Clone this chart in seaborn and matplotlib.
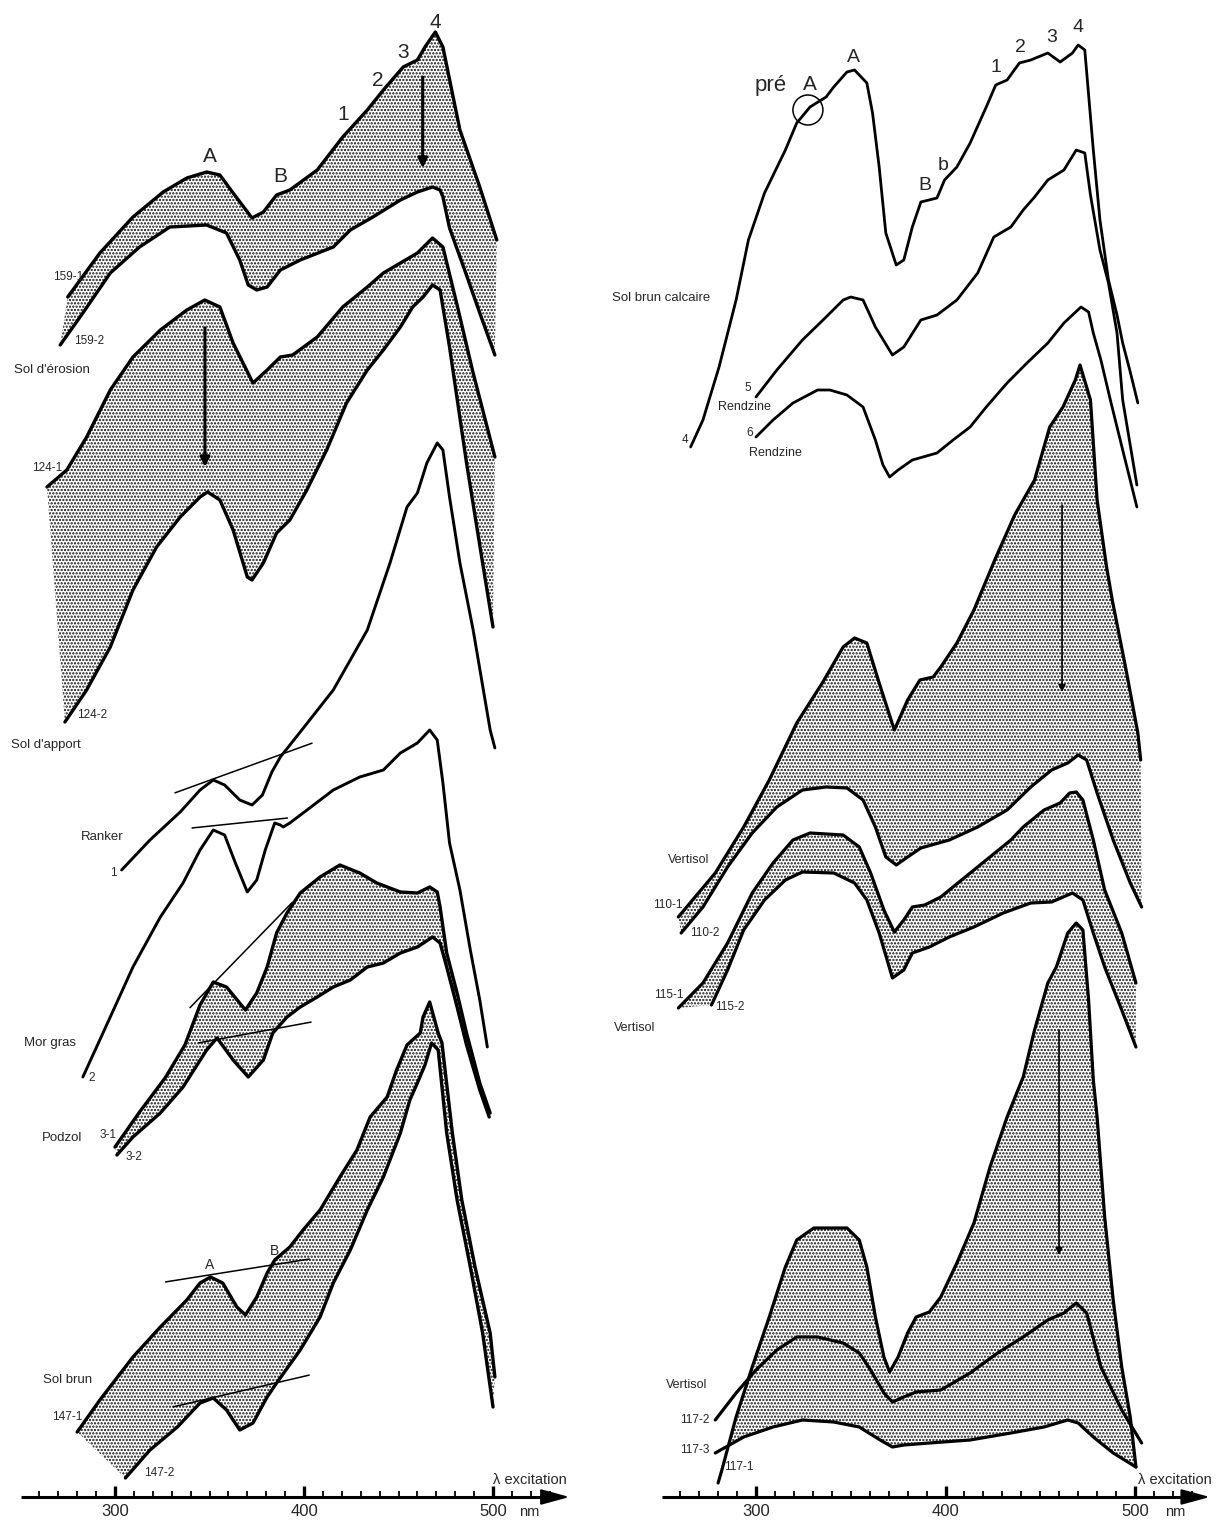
import numpy as np
import matplotlib
matplotlib.use("Agg")
import matplotlib.pyplot as plt
from matplotlib.patches import Ellipse
import seaborn as sns

# ---------------------------------------------------------------------------
# Excitation spectra (wavelength in nm, relative intensity in stacked a.u.)
# ---------------------------------------------------------------------------

# Left panel -- Sol d'érosion, pair 159
wl_159_1 = [275, 292, 309.5, 325.5, 338, 348.5, 355.5, 362.5, 372.5, 378.5, 385.5, 392.5, 407, 420.5,
            433.5, 442, 452.5, 460, 464, 469.5, 473.5, 482.5, 493, 502]
i_159_1 = [1200, 1244, 1280, 1305, 1319, 1325, 1322, 1304, 1279, 1285, 1302, 1307, 1327, 1360,
           1387, 1407, 1430, 1437, 1450, 1465, 1450, 1367, 1310, 1257]
wl_159_2 = [271, 283, 297.5, 313, 329, 348.5, 359, 366, 370.5, 375, 380.5, 387.5, 398, 415.5, 424.5,
            436.5, 451, 460, 468, 472, 473.5, 477, 485, 493, 501]
i_159_2 = [1152, 1184, 1224, 1250, 1270, 1272, 1264, 1237, 1212, 1207, 1210, 1227, 1237, 1250, 1267,
           1280, 1297, 1305, 1310, 1307, 1300, 1269, 1227, 1184, 1142]

# Sol d'apport, pair 124
wl_124_1 = [264, 274.5, 285, 297.5, 309.5, 324, 338, 347.5, 355.5, 362.5, 373, 380.5, 387.5, 394, 407,
            420.5, 433.5, 442, 451, 460, 468, 473.5, 481, 489.5, 501]
i_124_1 = [1010, 1027, 1060, 1107, 1140, 1167, 1187, 1197, 1190, 1154, 1114, 1127, 1140, 1142, 1160,
           1190, 1210, 1224, 1234, 1244, 1259, 1250, 1192, 1124, 1040]
wl_124_2 = [273.5, 285, 297.5, 309.5, 322, 334.5, 345, 349, 355.5, 362.5, 370, 372.5, 378.5, 385.5,
            392.5, 401.5, 412, 422.5, 433.5, 442, 451, 457.5, 463, 468, 472, 477, 486, 494.5, 500]
i_124_2 = [775, 807, 850, 907, 950, 980, 1000, 1005, 997, 967, 920, 917, 934, 964,
           977, 1007, 1047, 1094, 1127, 1147, 1170, 1190, 1200, 1212, 1207, 1150, 1034, 934, 870]

# Ranker (1) and Mor gras (2)
wl_ranker = [303.5, 318.5, 334.5, 345, 352, 358, 366, 372.5, 378, 383, 387.5, 398, 415.5, 433.5,
             445.5, 454.5, 460, 465, 470.5, 473.5, 477, 482.5, 489.5, 498.5, 501]
i_ranker = [627, 657, 685, 707, 717, 712, 697, 692, 702, 725, 740, 765, 807, 867,
            934, 990, 1004, 1034, 1054, 1047, 1000, 934, 867, 767, 749]
wl_morgras = [283, 297.5, 309.5, 324, 336, 345, 352, 358, 363.5, 370, 375, 379.5, 384.5, 387.5, 389,
              392.5, 403, 415.5, 429.5, 442, 451, 460, 466.5, 470.5, 473.5, 477, 482.5, 488, 493, 497]
i_morgras = [420, 480, 530, 580, 614, 647, 667, 662, 635, 605, 617, 647, 674, 672, 670,
             674, 689, 707, 720, 727, 744, 754, 767, 757, 714, 654, 607, 547, 497, 450]

# Podzol, pair 3
wl_3_1 = [300, 313, 326.5, 337, 345, 352, 359, 369, 375, 380.5, 385.5, 391, 398, 408.5, 419, 429.5,
          438.5, 451, 460, 466.5, 470.5, 472, 475.5, 481, 486, 493, 498.5]
i_3_1 = [350, 385, 419, 452, 492, 515, 510, 487, 504, 530, 564, 584, 604, 620, 632, 624,
         614, 605, 604, 610, 605, 590, 544, 504, 464, 414, 384]
wl_3_2 = [301, 309.5, 324, 336, 348.5, 354, 362.5, 370.5, 378.5, 383.5, 391, 398, 407, 415.5, 424.5,
          433.5, 442, 451, 460, 468, 472, 475.5, 481, 486, 493, 498]
i_3_2 = [342, 360, 384, 410, 447, 459, 437, 420, 437, 464, 480, 490, 500, 510, 517,
         530, 534, 544, 550, 560, 554, 530, 490, 452, 407, 380]

# Sol brun, pair 147
wl_147_1 = [280, 292, 309.5, 324, 338, 345, 350.5, 357, 364.5, 369, 375, 380.5, 384.5, 392.5, 399.5,
            408.5, 419, 428, 435, 444, 449, 454.5, 461.5, 463, 466.5, 471, 473, 478.5, 483.5, 490.5,
            498.5, 501]
i_147_1 = [65, 97, 140, 170, 197, 214, 220, 214, 190, 182, 200, 224, 237, 250, 267,
           287, 320, 347, 380, 400, 427, 452, 464, 480, 495, 464, 454, 364, 297, 230,
           164, 120]
wl_147_2 = [305.5, 318.5, 333, 345, 352, 359, 366, 373, 380.5, 385.5, 398, 408.5, 415.5, 424.5,
            433.5, 442, 451, 456, 460, 464, 467.5, 471, 475.5, 481, 488, 494.5, 500]
i_147_2 = [19, 47, 70, 94, 99, 87, 67, 74, 100, 114, 147, 180, 214, 247,
           287, 320, 364, 397, 414, 432, 454, 447, 364, 297, 230, 164, 90]

# Tangents drawn across bands A and B
tan_ranker_wl, tan_ranker_i = [331.5, 404.5], [704, 754]
tan_morgras_wl, tan_morgras_i = [340.5, 391.5], [669, 679]
tan_podzol_up_wl, tan_podzol_up_i = [339.5, 394], [489, 595]
tan_podzol_lo_wl, tan_podzol_lo_i = [344, 404], [454, 475]
tan_brun_up_wl, tan_brun_up_i = [326.5, 403], [215, 238]
tan_brun_lo_wl, tan_brun_lo_i = [330.5, 403], [90, 122]

# Right panel -- Sol brun calcaire (4), Rendzines (5, 6)
wl_c4 = [265.5, 272, 280.5, 289.5, 296, 304.5, 315.5, 321.5, 328.5, 337, 341, 348, 352, 358.5, 361.5,
         365, 368.5, 374, 378, 382.5, 387, 395.5, 399.5, 406, 413, 421.5, 426.5, 432.5, 439, 445,
         454, 460.5, 467, 470, 473.5, 478, 481.5, 486, 490.5, 493.5, 497.5, 501.5]
i_c4 = [1050, 1077, 1130, 1197, 1257, 1304, 1347, 1374, 1390, 1400, 1410, 1425, 1427, 1414, 1384,
        1330, 1264, 1232, 1237, 1270, 1295, 1299, 1317, 1330, 1354, 1390, 1412, 1417, 1434, 1437,
        1444, 1435, 1444, 1452, 1447, 1347, 1277, 1217, 1182, 1154, 1125, 1094]
wl_c5 = [300, 311, 324.5, 337, 346, 350, 356.5, 363, 372, 378, 387, 395.5, 406, 417, 425.5, 434.5,
         441, 447, 454, 462.5, 469, 473.5, 476.5, 481.5, 486, 490.5, 493.5, 501]
i_c5 = [1100, 1127, 1157, 1180, 1197, 1200, 1197, 1170, 1142, 1150, 1177, 1182, 1197, 1224, 1260, 1270,
        1287, 1300, 1317, 1327, 1347, 1344, 1302, 1247, 1214, 1164, 1097, 1012]
wl_c6 = [300, 309, 319.5, 332.5, 339, 348, 356.5, 363, 367, 370.5, 375, 382.5, 395.5, 404, 413, 421.5,
         432.5, 443, 454, 462.5, 471.5, 475.5, 478, 482, 487, 493.5, 501]
i_c6 = [1060, 1077, 1094, 1107, 1107, 1102, 1090, 1057, 1032, 1020, 1027, 1037, 1044, 1057, 1070, 1090,
        1114, 1134, 1154, 1174, 1190, 1185, 1164, 1137, 1097, 1047, 990]

# Vertisol, pair 110
wl_110_1 = [259, 278.5, 293.5, 307, 321.5, 335, 346, 352, 358.5, 365, 373, 380, 386.5, 393.5, 397.5,
            406, 415, 426, 436.5, 447, 450, 455, 462, 468.5, 471, 476.5, 480, 485, 488, 495, 501.5, 503]
i_110_1 = [580, 624, 670, 717, 774, 814, 850, 859, 854, 814, 767, 797, 817, 820, 830,
           854, 887, 937, 982, 1017, 1037, 1070, 1090, 1117, 1132, 1097, 997, 930, 897, 830, 764, 737]
wl_110_2 = [260.5, 272, 285, 298, 311, 324.5, 337, 348, 356.5, 363, 368.5, 374, 380, 387, 402, 417,
            432.5, 445, 456, 464.5, 470, 474.5, 480, 488.5, 497.5, 503.5]
i_110_2 = [564, 590, 630, 664, 690, 707, 710, 709, 697, 670, 640, 632, 640, 649, 657, 670,
           687, 710, 727, 734, 742, 737, 704, 657, 614, 590]

# Vertisol, pair 115
wl_115_1 = [259, 272, 285, 298, 309, 319.5, 328.5, 346, 354.5, 360.5, 367.5, 373, 378, 382.5, 389,
            397.5, 408.5, 421.5, 434.5, 441, 452, 460.5, 465.5, 469, 472.5, 478, 484, 493, 500.5]
i_115_1 = [489, 514, 554, 604, 634, 657, 664, 662, 650, 624, 587, 565, 577, 590, 592,
           600, 617, 637, 657, 670, 687, 694, 704, 705, 697, 657, 607, 564, 514]
wl_115_2 = [276.5, 285, 293.5, 304.5, 315.5, 324.5, 341, 352, 358.5, 365, 372, 378, 382.5, 391.5, 402,
            415, 430.5, 445, 456, 467, 472.5, 478, 484, 493, 500.5]
i_115_2 = [492, 527, 567, 597, 617, 625, 624, 614, 597, 564, 519, 527, 544, 550, 560,
           570, 584, 594, 595, 604, 597, 564, 530, 487, 450]

# Vertisol, series 117
wl_117_1 = [280, 282, 289.5, 298, 307, 315.5, 321.5, 330.5, 348, 354.5, 358.5, 363, 367.5, 370.5, 375,
            380, 384.5, 391.5, 397.5, 406, 415, 423.5, 432.5, 441, 447, 454, 458.5, 464.5, 469, 472.5,
            475.5, 478, 480, 484, 488.5, 493, 497.5, 500.5]
i_117_1 = [14, 27, 80, 130, 180, 230, 257, 269, 269, 257, 230, 180, 140, 125, 140,
           164, 180, 185, 200, 234, 274, 330, 380, 420, 467, 514, 530, 564, 574, 567,
           497, 417, 380, 280, 197, 130, 80, 30]
wl_117_2 = [278.5, 289.5, 300, 311, 321.5, 332.5, 346, 354.5, 360.5, 367.5, 372, 378, 384.5, 397.5,
            413, 427.5, 441, 454, 462.5, 469, 474.5, 482, 493, 503.5]
i_117_2 = [77, 104, 127, 147, 160, 160, 154, 144, 127, 104, 95, 100, 105, 107,
           124, 144, 160, 177, 184, 194, 184, 130, 87, 54]
wl_117_3 = [278.5, 293.5, 309, 324.5, 341, 354.5, 365.5, 372, 378, 391.5, 413, 434.5, 452, 464.5,
            470, 478, 488.5, 500.5]
i_117_3 = [44, 60, 70, 77, 75, 70, 57, 50, 52, 54, 57, 64, 70, 77, 74, 60, 44, 30]

axis_ticks = list(range(260, 540, 10))
axis_labels = [300, 400, 500]

# ---------------------------------------------------------------------------
sns.set_theme(style="white")
plt.rcParams["font.family"] = ["Liberation Sans", "DejaVu Sans"]
plt.rcParams["hatch.linewidth"] = 1.1

W, H = 1221, 1521
fig = plt.figure(figsize=(W / 100, H / 100), dpi=100)
fig.patch.set_facecolor("white")

NM_L, NM_R = 1.89, 1.895
axL = fig.add_axes([0, 0, 600 / W, 1])
axR = fig.add_axes([600 / W, 0, 621 / W, 1])
axL.set_xlim(300 - 115 / NM_L, 300 + 485 / NM_L)
axR.set_xlim(300 - 156 / NM_R, 300 + 465 / NM_R)
for ax in (axL, axR):
    ax.set_ylim(-24, 1497)
    ax.axis("off")

STIPPLE = "....."
INK = "black"


def curve(ax, wl, val, lw=2.2, z=3):
    sns.lineplot(x=wl, y=val, ax=ax, color=INK, linewidth=lw, sort=False,
                 estimator=None, legend=False, zorder=z,
                 solid_joinstyle="round", solid_capstyle="round")


def band(ax, wl_a, v_a, wl_b, v_b):
    xs = list(wl_a) + list(wl_b)[::-1]
    ys = list(v_a) + list(v_b)[::-1]
    ax.fill(xs, ys, facecolor="white", edgecolor="#111111", linewidth=0,
            hatch=STIPPLE, zorder=1)


def thin(ax, wl, val, lw=1.1):
    ax.plot(wl, val, color=INK, lw=lw, zorder=4, solid_capstyle="butt")


def down_arrow(ax, x, y0, y1, lw=2.2, head=14):
    ax.annotate("", xy=(x, y1), xytext=(x, y0),
                arrowprops=dict(arrowstyle="-|>", color=INK, lw=lw,
                                mutation_scale=head, shrinkA=0, shrinkB=0),
                zorder=5)


def wavelength_axis(ax, start, end, nm_x, lab_x):
    ax.plot([start, end - 4], [0, 0], color=INK, lw=2.2, zorder=3,
            solid_capstyle="butt")
    ax.annotate("", xy=(end, 0), xytext=(end - 10, 0),
                arrowprops=dict(arrowstyle="-|>,head_length=1.1,head_width=0.3",
                                color=INK, lw=1.5, mutation_scale=16,
                                shrinkA=0, shrinkB=0))
    for t in axis_ticks:
        major = t in axis_labels
        ax.plot([t, t], [0, 11 if major else 6], color=INK,
                lw=2.4 if major else 1.3, solid_capstyle="butt")
    for t in axis_labels:
        ax.text(t, -15, str(t), ha="center", va="center", fontsize=12)
    ax.text(nm_x, -15, "nm", ha="center", va="center", fontsize=10.5)
    ax.text(lab_x, 10, "λ excitation", ha="left", va="bottom", fontsize=10.5)


# ---------------------------- left panel ----------------------------------
band(axL, wl_159_1, i_159_1, wl_159_2, i_159_2)
band(axL, wl_124_1, i_124_1, wl_124_2, i_124_2)
band(axL, wl_3_1, i_3_1, wl_3_2, i_3_2)
band(axL, wl_147_1, i_147_1, wl_147_2, i_147_2)

for wl, v in [(wl_159_1, i_159_1), (wl_159_2, i_159_2), (wl_124_1, i_124_1),
              (wl_124_2, i_124_2), (wl_3_1, i_3_1), (wl_3_2, i_3_2),
              (wl_147_1, i_147_1), (wl_147_2, i_147_2)]:
    curve(axL, wl, v, lw=2.4)
curve(axL, wl_ranker, i_ranker, lw=2.1)
curve(axL, wl_morgras, i_morgras, lw=2.1)

for wl, v in [(tan_ranker_wl, tan_ranker_i), (tan_morgras_wl, tan_morgras_i),
              (tan_podzol_up_wl, tan_podzol_up_i), (tan_podzol_lo_wl, tan_podzol_lo_i),
              (tan_brun_up_wl, tan_brun_up_i), (tan_brun_lo_wl, tan_brun_lo_i)]:
    thin(axL, wl, v)

down_arrow(axL, 462.8, 1420, 1329)
down_arrow(axL, 347.6, 1169, 1030)

big = dict(fontsize=15, ha="center", va="center")
for s, x, y in [("A", 350.3, 1340), ("B", 387.3, 1320), ("1", 420.6, 1382),
                ("2", 439.1, 1417), ("3", 452.4, 1445), ("4", 469.3, 1475)]:
    axL.text(x, y, s, **big)

small = dict(fontsize=8.5, ha="center", va="center")
name = dict(fontsize=9.5, ha="center", va="center")
for s, x, y in [("159-1", 275.1, 1220), ("159-2", 286.2, 1156), ("124-1", 264.3, 1029),
                ("124-2", 288.1, 782), ("1", 299.0, 624), ("2", 287.8, 419),
                ("3-1", 296.3, 362), ("3-2", 310.0, 340), ("147-1", 274.6, 80),
                ("147-2", 323.3, 24)]:
    axL.text(x, y, s, **small)
for s, x, y in [("Sol d'apport", 263.2, 752), ("Ranker", 293.1, 660),
                ("Mor gras", 265.6, 454), ("Podzol", 272.0, 359), ("Sol brun", 275.1, 117)]:
    axL.text(x, y, s, **name)
axL.text(286.8, 1127, "Sol d'érosion", fontsize=9.5, ha="right", va="center")
axL.text(350.3, 232, "A", fontsize=10, ha="center", va="center")
axL.text(384.6, 246, "B", fontsize=10, ha="center", va="center")

wavelength_axis(axL, 250, 540.5, 519, 500)

# ---------------------------- right panel ---------------------------------
band(axR, wl_110_1, i_110_1, wl_110_2, i_110_2)
band(axR, wl_115_1, i_115_1, wl_115_2, i_115_2)

grid = np.linspace(wl_117_1[0], wl_117_1[-1], 800)
top = np.interp(grid, wl_117_1, i_117_1)
bot = np.interp(grid, wl_117_3, i_117_3)
axR.fill_between(grid, bot, top, where=top >= bot, interpolate=True,
                 facecolor="white", edgecolor="#111111", linewidth=0,
                 hatch=STIPPLE, zorder=1)

for wl, v in [(wl_c4, i_c4), (wl_c5, i_c5), (wl_c6, i_c6)]:
    curve(axR, wl, v, lw=2.0)
for wl, v in [(wl_110_1, i_110_1), (wl_110_2, i_110_2), (wl_115_1, i_115_1),
              (wl_115_2, i_115_2), (wl_117_1, i_117_1), (wl_117_2, i_117_2),
              (wl_117_3, i_117_3)]:
    curve(axR, wl, v, lw=2.3)

down_arrow(axR, 461.5, 992, 805, lw=1.2, head=10)
down_arrow(axR, 459.9, 467, 242, lw=1.2, head=10)

axR.add_patch(Ellipse((327.4, 1387), width=30 / NM_R, height=30, fill=False,
                      lw=1.1, color=INK, zorder=5))
axR.text(307.9, 1412, "pré", fontsize=16, ha="center", va="center")
axR.text(328.5, 1412, "A", fontsize=15, ha="center", va="center")
for s, x, y in [("A", 351.2, 1439), ("B", 389.2, 1312), ("b", 398.7, 1331),
                ("1", 426.6, 1429), ("2", 439.8, 1450), ("3", 456.2, 1459),
                ("4", 469.9, 1469)]:
    axR.text(x, y, s, fontsize=14, ha="center", va="center")

for s, x, y in [("5", 295.8, 1109), ("6", 296.8, 1064), ("4", 262.6, 1057),
                ("110-1", 253.3, 592), ("110-2", 273.1, 564), ("115-1", 253.8, 502),
                ("115-2", 286.0, 490), ("117-2", 267.8, 77), ("117-3", 267.8, 47),
                ("117-1", 291.0, 30)]:
    axR.text(x, y, s, **small)
for s, x, y in [("Rendzine", 293.7, 1090), ("Rendzine", 310.0, 1044),
                ("Vertisol", 264.4, 637), ("Vertisol", 235.9, 469), ("Vertisol", 263.3, 112)]:
    axR.text(x, y, s, fontsize=9, ha="center", va="center")
axR.text(224.1, 1199, "Sol brun calcaire", fontsize=9.5, ha="left", va="center")

wavelength_axis(axR, 250.5, 539.5, 521, 501.5)

fig.savefig("out.png", dpi=100, facecolor="white")
